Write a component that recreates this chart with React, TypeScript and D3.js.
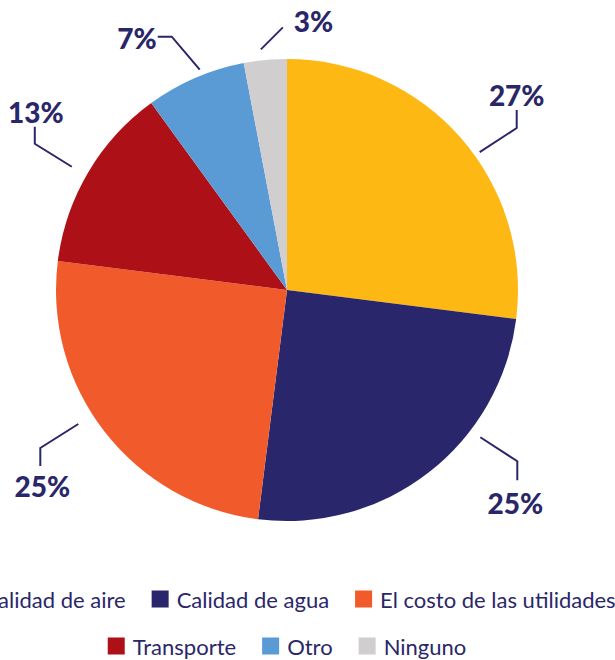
import React, { useEffect, useRef } from 'react'
import * as d3 from 'd3'

// survey shares, clockwise from 12 o'clock
const categories = ['Calidad de aire', 'Calidad de agua', 'El costo de las utilidades', 'Transporte', 'Otro', 'Ninguno']
const values = [27, 25, 25, 13, 7, 3]
const colors = ['#FDB813', '#29266B', '#F15A2B', '#AD1016', '#5B9BD5', '#D0CECF']
const legendRows = [[0, 1, 2], [3, 4, 5]]

const NAVY = '#2A2769'

// callout geometry per slice: start angle/radius, elbow & end offsets, label offset
const callouts = [
  { a: 54.4, r: 237, pts: [[37, -24], [37, -42]], lab: [0, -4], anchor: 'middle' },
  { a: 127.3, r: 243, pts: [[37, 24], [37, 43]], lab: [-2, 34], anchor: 'middle' },
  { a: 237.3, r: 248, pts: [[-38, 24], [-38, 42]], lab: [2, 31], anchor: 'middle' },
  { a: 299.8, r: 248, pts: [[-37, -23], [-37, -40]], lab: [1, -4], anchor: 'middle' },
  { a: 338.4, r: 237, pts: [[-28, -33], [-42, -33]], lab: [-1, 12], anchor: 'end' },
  { a: 353.8, r: 242, pts: [[22, -22]], lab: [11, 5], anchor: 'start' },
]

export default function App() {
  const ref = useRef<SVGSVGElement>(null)

  useEffect(() => {
    document.body.style.margin = '0'
    const svg = d3.select(ref.current)
    svg.selectAll('*').remove()

    const cx = 287, cy = 290, radius = 231
    const data = categories.map((c, i) => ({ c, v: values[i], i }))

    const pie = d3.pie<any>().value(d => d.v).sort(null)
    const arc = d3.arc<any>().innerRadius(0).outerRadius(radius)

    const g = svg.append('g').attr('transform', `translate(${cx},${cy})`)
    g.selectAll('path').data(pie(data)).join('path')
      .attr('d', arc)
      .attr('fill', d => colors[d.data.i])

    // callouts
    const line = d3.line()
    data.forEach((d, i) => {
      const co = callouts[i]
      const rad = co.a * Math.PI / 180
      const s: [number, number] = [co.r * Math.sin(rad), -co.r * Math.cos(rad)]
      const pts: [number, number][] = [s, ...co.pts.map(p => [s[0] + p[0], s[1] + p[1]] as [number, number])]
      g.append('path').attr('d', line(pts)).attr('fill', 'none')
        .attr('stroke', NAVY).attr('stroke-width', 2)
      const end = pts[pts.length - 1]
      g.append('text')
        .attr('x', end[0] + co.lab[0]).attr('y', end[1] + co.lab[1])
        .attr('text-anchor', co.anchor)
        .attr('font-family', 'Lato, sans-serif').attr('font-weight', 900)
        .attr('font-size', 28).attr('fill', NAVY)
        .text(d.v + '%')
    })

    // legend, rows centered on pie center
    const rowY = [600, 647]
    const sq = 17, gapText = 8, gapItem = 26
    legendRows.forEach((row, ri) => {
      const lg = svg.append('g')
      let x = 0
      row.forEach(i => {
        lg.append('rect').attr('x', x).attr('y', rowY[ri] - sq / 2 - 1)
          .attr('width', sq).attr('height', sq).attr('fill', colors[i])
        const t = lg.append('text').attr('x', x + sq + gapText).attr('y', rowY[ri] + 8)
          .attr('font-family', 'Lato, sans-serif').attr('font-size', 22)
          .attr('fill', NAVY).text(categories[i])
        const w = (t.node() as SVGTextElement).getComputedTextLength()
        x += sq + gapText + w + gapItem
      })
      const total = x - gapItem
      lg.attr('transform', `translate(${cx - total / 2},0)`)
    })
  }, [])

  return <svg ref={ref} width={615} height={660} style={{ display: 'block' }} />
}
